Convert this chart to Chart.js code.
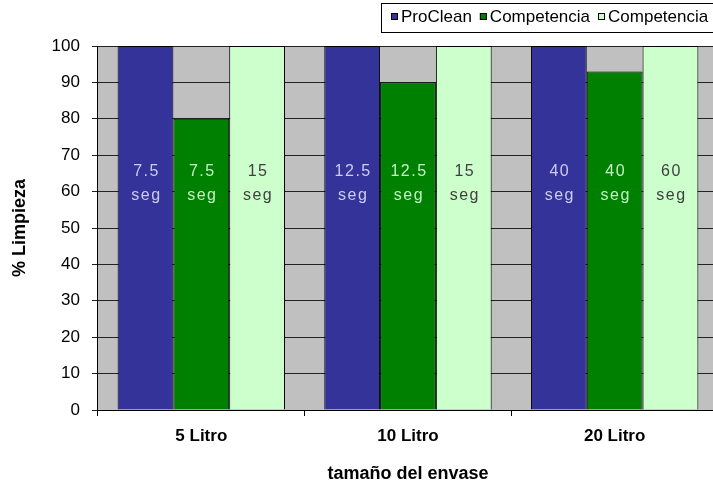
<!DOCTYPE html>
<html><head><meta charset="utf-8">
<script src="https://cdn.jsdelivr.net/npm/chart.js@4/dist/chart.umd.min.js"></script>
<style>html,body{margin:0;padding:0;overflow:hidden;background:#fff}canvas{display:block}</style>
</head><body>
<canvas id="c" width="720" height="485"></canvas>
<script>
const categories = ['5 Litro', '10 Litro', '20 Litro'];
const seriesNames = ['ProClean', 'Competencia', 'Competencia'];
const proClean = [100, 100, 100];
const competencia1 = [80, 90, 93];
const competencia2 = [100, 100, 100];
const labelsProClean = [['7.5', 'seg'], ['12.5', 'seg'], ['40', 'seg']];
const labelsComp1 = [['7.5', 'seg'], ['12.5', 'seg'], ['40', 'seg']];
const labelsComp2 = [['15', 'seg'], ['15', 'seg'], ['60', 'seg']];
const labelValue = 62.3;
const yTicks = [0,10,20,30,40,50,60,70,80,90,100];

const FONT = 'Arial, "Liberation Sans", sans-serif';
const colors = ['#333399', '#008000', '#CCFFCC'];
const labelColors = ['#CDCDF0', '#C4F0C4', '#404040'];
const allLabels = [labelsProClean, labelsComp1, labelsComp2];

const plotBg = {
  id: 'plotBg',
  beforeDraw(chart) {
    const {ctx, chartArea: a} = chart;
    ctx.save(); ctx.fillStyle = '#C0C0C0';
    ctx.fillRect(a.left, a.top, a.right - a.left, a.bottom - a.top);
    ctx.restore();
  }
};
const barLabels = {
  id: 'barLabels',
  afterDatasetsDraw(chart) {
    const {ctx} = chart;
    const y = chart.scales.y.getPixelForValue(labelValue);
    ctx.save();
    ctx.font = '16px ' + FONT;
    ctx.letterSpacing = '1.5px';
    ctx.textAlign = 'center'; ctx.textBaseline = 'middle';
    chart.data.datasets.forEach((ds, i) => {
      chart.getDatasetMeta(i).data.forEach((bar, j) => {
        const lines = allLabels[i][j];
        ctx.fillStyle = labelColors[i];
        ctx.fillText(lines[0], bar.x + 1, y - 12);
        ctx.fillText(lines[1], bar.x + 1, y + 12);
      });
    });
    ctx.restore();
  }
};
const customLegend = {
  id: 'customLegend',
  afterDraw(chart) {
    const {ctx} = chart;
    ctx.save();
    ctx.strokeStyle = '#000'; ctx.lineWidth = 1;
    ctx.strokeRect(381.5, 3.5, 340, 29);
    ctx.font = '17px ' + FONT;
    ctx.textBaseline = 'middle'; ctx.textAlign = 'left';
    let x = 391;
    chart.data.datasets.forEach((ds, i) => {
      ctx.fillStyle = colors[i];
      ctx.fillRect(x, 13, 7, 7);
      ctx.strokeStyle = '#000';
      ctx.strokeRect(x + 0.5, 13.5, 6, 6);
      ctx.fillStyle = '#000';
      ctx.fillText(ds.label, x + 10, 17.5);
      x += 10 + ctx.measureText(ds.label).width + 8;
    });
    ctx.restore();
  }
};

new Chart(document.getElementById('c'), {
  type: 'bar',
  data: {
    labels: categories,
    datasets: [
      {label: seriesNames[0], data: proClean},
      {label: seriesNames[1], data: competencia1},
      {label: seriesNames[2], data: competencia2}
    ].map((d, i) => Object.assign(d, {
      backgroundColor: colors[i], borderColor: '#000', borderWidth: 1,
      categoryPercentage: 0.81, barPercentage: 1
    }))
  },
  options: {
    responsive: false, animation: false, devicePixelRatio: 1,
    layout: {padding: {left: 9, top: 46, right: 2, bottom: 0}},
    plugins: {
      tooltip: {enabled: false},
      legend: {display: false}
    },
    scales: {
      x: {
        offset: true,
        grid: {display: true, drawOnChartArea: false, drawTicks: true, tickLength: 6, color: '#000', offset: true},
        border: {display: true, color: '#000'},
        ticks: {color: '#000', font: {family: FONT, size: 17, weight: 'bold'}, padding: 10},
        title: {display: true, text: 'tamaño del envase', color: '#000', font: {family: FONT, size: 18, weight: 'bold'}, padding: {top: 7, bottom: 0}}
      },
      y: {
        min: 0, max: 100,
        afterBuildTicks(s) { s.ticks = yTicks.map(v => ({value: v})); },
        grid: {color: '#222', tickLength: 6, drawTicks: true},
        border: {display: true, color: '#000'},
        ticks: {color: '#000', font: {family: FONT, size: 17}, padding: 12},
        title: {display: true, text: '% Limpieza', color: '#000', font: {family: FONT, size: 18, weight: 'bold'}, padding: {top: 0, bottom: 9}}
      }
    }
  },
  plugins: [plotBg, barLabels, customLegend]
});
</script>
</body></html>
